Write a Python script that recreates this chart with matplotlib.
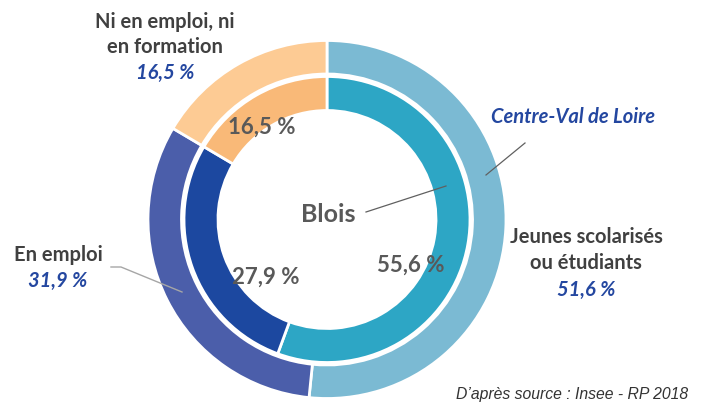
import matplotlib
matplotlib.use("Agg")
import matplotlib.pyplot as plt

categories = ["Jeunes scolarisés\nou étudiants", "En emploi", "Ni en emploi, ni\nen formation"]
region_values = [51.6, 31.9, 16.5]   # Centre-Val de Loire (outer ring)
blois_values = [55.6, 27.9, 16.5]    # Blois (inner ring)
region_labels = ["51,6 %", "31,9 %", "16,5 %"]
blois_labels = ["55,6 %", "27,9 %", "16,5 %"]

outer_colors = ["#7BBAD3", "#4B5EAA", "#FDCB94"]
inner_colors = ["#2DA6C5", "#1C48A0", "#F9B978"]

W, H = 702, 403
fig = plt.figure(figsize=(W / 100, H / 100), dpi=100)
ax = fig.add_axes([0, 0, 1, 1])

cx, cy = 327, H - 219.5
edge = dict(edgecolor="white", linewidth=2.0)

ax.pie(region_values, colors=outer_colors, startangle=90, counterclock=False,
       center=(cx, cy), radius=179, wedgeprops=dict(width=33.5, **edge), frame=True)
ax.pie(blois_values, colors=inner_colors, startangle=90, counterclock=False,
       center=(cx, cy), radius=143, wedgeprops=dict(width=34, **edge), frame=True)
ax.set_xlim(0, W)
ax.set_ylim(0, H)
ax.set_aspect("equal")
ax.axis("off")

font = "Lato"
gray = "#404040"
blue = "#2447A0"
lab_gray = "#595959"
fs = 14.5

def Y(y):
    return H - y

# outer category labels
ax.text(165, Y(22), "Ni en emploi, ni", ha="center", va="center", fontsize=fs,
        fontweight="bold", color=gray, family=font)
ax.text(165, Y(47), "en formation", ha="center", va="center", fontsize=fs,
        fontweight="bold", color=gray, family=font)
ax.text(165, Y(73), region_labels[2], ha="center", va="center", fontsize=fs,
        fontweight="bold", style="italic", color=blue, family=font)

ax.text(58, Y(255), categories[1], ha="center", va="center", fontsize=fs,
        fontweight="bold", color=gray, family=font)
ax.text(58, Y(281), region_labels[1], ha="center", va="center", fontsize=fs,
        fontweight="bold", style="italic", color=blue, family=font)

ax.text(586, Y(237), "Jeunes scolarisés", ha="center", va="center", fontsize=fs,
        fontweight="bold", color=gray, family=font)
ax.text(586, Y(263), "ou étudiants", ha="center", va="center", fontsize=fs,
        fontweight="bold", color=gray, family=font)
ax.text(586, Y(290), region_labels[0], ha="center", va="center", fontsize=fs,
        fontweight="bold", style="italic", color=blue, family=font)

ax.text(573, Y(117), "Centre-Val de Loire", ha="center", va="center", fontsize=fs,
        fontweight="bold", style="italic", color=blue, family=font)

ax.text(328, Y(215), "Blois", ha="center", va="center", fontsize=18,
        fontweight="bold", color=lab_gray, family=font)

# inner labels
ax.text(262, Y(127), blois_labels[2], ha="center", va="center", fontsize=16,
        fontweight="bold", color=lab_gray, family=font)
ax.text(266, Y(277), blois_labels[1], ha="center", va="center", fontsize=16,
        fontweight="bold", color=lab_gray, family=font)
ax.text(411, Y(265), blois_labels[0], ha="center", va="center", fontsize=16,
        fontweight="bold", color=lab_gray, family=font)

# leader lines
ax.plot([366, 446], [Y(212), Y(186)], color="#606060", lw=0.9)
ax.plot([525, 486], [Y(143), Y(175)], color="#606060", lw=0.9)
ax.plot([111, 121, 182], [Y(267), Y(267), Y(292)], color="#A6A6A6", lw=1.0)

ax.text(688, Y(394), "D\u2019après source : Insee - RP 2018", ha="right", va="center",
        fontsize=11.3, style="italic", color="#333333", family="Liberation Sans")

fig.savefig("out.png", dpi=100)
